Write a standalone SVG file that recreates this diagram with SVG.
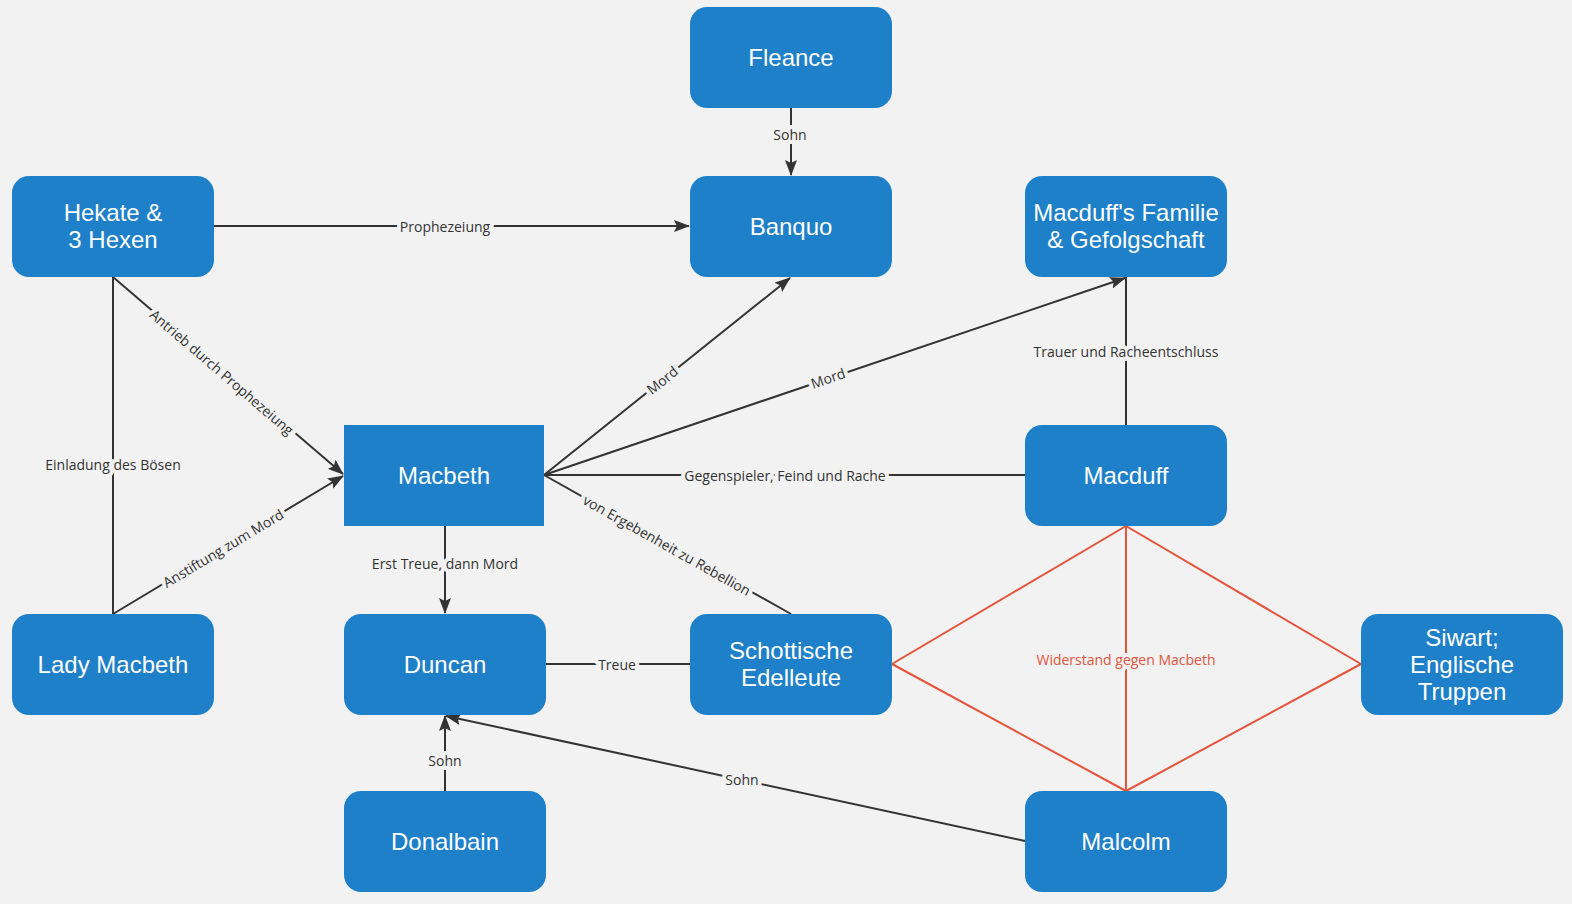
<svg xmlns="http://www.w3.org/2000/svg" width="1572" height="904" viewBox="0 0 1572 904">
<style>
.node rect{fill:#1e80c8}
.node text{fill:#ffffff;font-family:"Liberation Sans",Arial,sans-serif;font-size:24px;text-anchor:middle}
.edge{stroke:#333333;stroke-width:2;fill:none}
.red{stroke:#e4533a;stroke-width:2;fill:none}
.lbl{fill:#333333;font-family:"Open Sans","Noto Sans",sans-serif;font-size:14px;text-anchor:middle;dominant-baseline:central;stroke:#f2f2f2;stroke-width:8;paint-order:stroke;stroke-linejoin:round}
.rlbl{fill:#e05440;font-family:"Open Sans","Noto Sans",sans-serif;font-size:14px;text-anchor:middle;dominant-baseline:central;stroke:#f2f2f2;stroke-width:8;paint-order:stroke;stroke-linejoin:round}
</style>
<defs>
<marker id="arr" markerUnits="userSpaceOnUse" markerWidth="16" markerHeight="12" viewBox="0 0 16 12" refX="15" refY="6" orient="auto">
<path d="M0,0 L16,6 L0,12 L3,6 z" fill="#333333"/>
</marker>
</defs>
<rect x="0" y="0" width="1572" height="904" fill="#f2f2f2"/>
<g id="connectors">
<line class="edge" x1="791" y1="108" x2="791" y2="175" marker-end="url(#arr)"/>
<line class="edge" x1="214" y1="226" x2="689" y2="226" marker-end="url(#arr)"/>
<line class="edge" x1="113" y1="277" x2="343" y2="474" marker-end="url(#arr)"/>
<line class="edge" x1="113" y1="277" x2="113" y2="614"/>
<line class="edge" x1="113" y1="614" x2="343" y2="476" marker-end="url(#arr)"/>
<line class="edge" x1="544" y1="475" x2="790" y2="278" marker-end="url(#arr)"/>
<line class="edge" x1="544" y1="475" x2="1125" y2="278" marker-end="url(#arr)"/>
<line class="edge" x1="544" y1="475" x2="1025" y2="475"/>
<line class="edge" x1="544" y1="475" x2="791" y2="614"/>
<line class="edge" x1="445" y1="526" x2="445" y2="613" marker-end="url(#arr)"/>
<line class="edge" x1="546" y1="664" x2="690" y2="664"/>
<line class="edge" x1="1126" y1="425" x2="1126" y2="277"/>
<line class="edge" x1="445" y1="791" x2="445" y2="716" marker-end="url(#arr)"/>
<line class="edge" x1="1025" y1="841" x2="446" y2="716" marker-end="url(#arr)"/>
<g id="widerstand">
<line class="red" x1="1126" y1="526" x2="892" y2="664"/>
<line class="red" x1="1126" y1="526" x2="1361" y2="664"/>
<line class="red" x1="892" y1="664" x2="1126" y2="791"/>
<line class="red" x1="1361" y1="664" x2="1126" y2="791"/>
<line class="red" x1="1126" y1="526" x2="1126" y2="791"/>
</g>
<text class="lbl" x="790" y="134">Sohn</text>
<text class="lbl" x="445" y="226">Prophezeiung</text>
<text class="lbl" transform="translate(222,372) rotate(40.6)">Antrieb durch Prophezeiung</text>
<text class="lbl" x="113" y="464">Einladung des Bösen</text>
<text class="lbl" transform="translate(223,548) rotate(-31)">Anstiftung zum Mord</text>
<text class="lbl" transform="translate(662,380) rotate(-38.7)">Mord</text>
<text class="lbl" transform="translate(828,378) rotate(-18.8)">Mord</text>
<text class="lbl" x="785" y="475">Gegenspieler, Feind und Rache</text>
<text class="lbl" transform="translate(667,545) rotate(29.4)">von Ergebenheit zu Rebellion</text>
<text class="lbl" x="445" y="563">Erst Treue, dann Mord</text>
<text class="lbl" x="617" y="664">Treue</text>
<text class="lbl" x="1126" y="351">Trauer und Racheentschluss</text>
<text class="lbl" x="445" y="760">Sohn</text>
<text class="lbl" x="742" y="779">Sohn</text>
<text class="rlbl" x="1126" y="659">Widerstand gegen Macbeth</text>
</g>
<g id="fleance" class="node"><rect x="690" y="7" width="202" height="101" rx="17"/><text x="791" y="66">Fleance</text></g>
<g id="banquo" class="node"><rect x="690" y="176" width="202" height="101" rx="17"/><text x="791" y="235">Banquo</text></g>
<g id="hekate" class="node"><rect x="12" y="176" width="202" height="101" rx="17"/><text x="113" y="221">Hekate &amp;</text><text x="113" y="248">3 Hexen</text></g>
<g id="familie" class="node"><rect x="1025" y="176" width="202" height="101" rx="17"/><text x="1126" y="221">Macduff's Familie</text><text x="1126" y="248">&amp; Gefolgschaft</text></g>
<g id="macbeth" class="node"><rect x="344" y="425" width="200" height="101"/><text x="444" y="484">Macbeth</text></g>
<g id="macduff" class="node"><rect x="1025" y="425" width="202" height="101" rx="17"/><text x="1126" y="484">Macduff</text></g>
<g id="ladymacbeth" class="node"><rect x="12" y="614" width="202" height="101" rx="17"/><text x="113" y="673">Lady Macbeth</text></g>
<g id="duncan" class="node"><rect x="344" y="614" width="202" height="101" rx="17"/><text x="445" y="673">Duncan</text></g>
<g id="edelleute" class="node"><rect x="690" y="614" width="202" height="101" rx="17"/><text x="791" y="659">Schottische</text><text x="791" y="686">Edelleute</text></g>
<g id="siwart" class="node"><rect x="1361" y="614" width="202" height="101" rx="17"/><text x="1462" y="646">Siwart;</text><text x="1462" y="673">Englische</text><text x="1462" y="700">Truppen</text></g>
<g id="donalbain" class="node"><rect x="344" y="791" width="202" height="101" rx="17"/><text x="445" y="850">Donalbain</text></g>
<g id="malcolm" class="node"><rect x="1025" y="791" width="202" height="101" rx="17"/><text x="1126" y="850">Malcolm</text></g>
</svg>
